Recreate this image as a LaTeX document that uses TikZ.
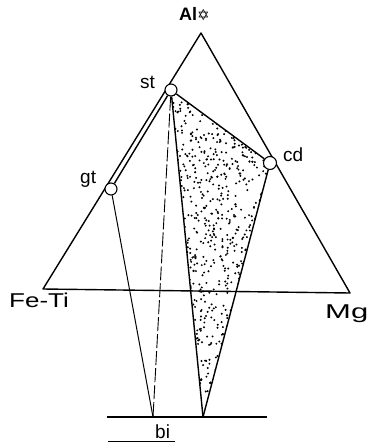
\documentclass[tikz,border=0pt]{standalone}
\usepackage{fontspec}
\setmainfont{Liberation Sans}
\newfontfamily\dvsym{DejaVu Sans}
\begin{document}
\begin{tikzpicture}[x=1pt,y=-1pt,
  edge/.style={line width=1.4pt,line join=round},
  thin edge/.style={line width=1pt},
  dashline/.style={line width=0.9pt,dash pattern=on 14pt off 3pt},
  phase/.style={circle,draw,fill=white,line width=1.1pt,inner sep=0pt,minimum size=12pt},
  lab/.style={inner sep=0pt,anchor=base west}]
\useasboundingbox (0,0) rectangle (372,443);
% vertices
\coordinate (Al) at (201,33);
\coordinate (FeTi) at (43,289);
\coordinate (Mg) at (350,293);
\coordinate (stc) at (171,90);
\coordinate (gtc) at (111,189);
\coordinate (cdc) at (270,163);
\coordinate (biL) at (153,417);
\coordinate (biR) at (203,417);
\coordinate (baseL) at (107,417);
\coordinate (baseR) at (267,417);
\coordinate (ulL) at (108,441);
\coordinate (ulR) at (175,441);
% stipple
\begin{scope}
  \clip (stc) -- (cdc) -- (biR) -- cycle;
  \pgfmathsetseed{11}
  \foreach \i in {1,...,1000} {
    \pgfmathsetmacro\xx{170+102*rnd}
    \pgfmathsetmacro\yy{88+330*rnd}
    \fill (\xx,\yy) circle (1.1);
  }
\end{scope}
% triangle
\draw[edge] (Al) -- (FeTi) -- (Mg) -- cycle;
% phase circles
\node[phase] (st) at (stc) {};
\node[phase] (gt) at (gtc) {};
\node[phase,minimum size=13pt] (cd) at (cdc) {};
% tie lines
\draw[edge] (st) -- (gt);
\draw[edge] (st) -- (cd);
\draw[edge] (st) -- (biR);
\draw[edge] (cd) -- (biR);
\draw[thin edge] (gt) -- (biL);
\draw[dashline] (st) -- (biL);
% bi lines
\draw[edge] (baseL) -- (baseR);
\draw[thin edge] (ulL) -- (ulR);
% labels
\node[lab] (lAl) at (179,21) {\fontsize{18}{18}\selectfont\bfseries Al\dvsym\fontsize{15}{15}\selectfont\bfseries ✡};
\node[lab] (lst) at (140,89) {\fontsize{19}{19}\selectfont st};
\node[lab] (lgt) at (80,184) {\fontsize{19}{19}\selectfont gt};
\node[lab] (lcd) at (283,162) {\fontsize{19}{19}\selectfont cd};
\node[lab] (lFeTi) at (9,307) {\fontsize{20}{20}\selectfont\scalebox{1.3}[1]{Fe-Ti}};
\node[lab] (lMg) at (325,318) {\fontsize{20}{20}\selectfont\scalebox{1.55}[1]{Mg}};
\node[lab] (lbi) at (155,438) {\fontsize{19}{19}\selectfont bi};
\end{tikzpicture}
\end{document}
